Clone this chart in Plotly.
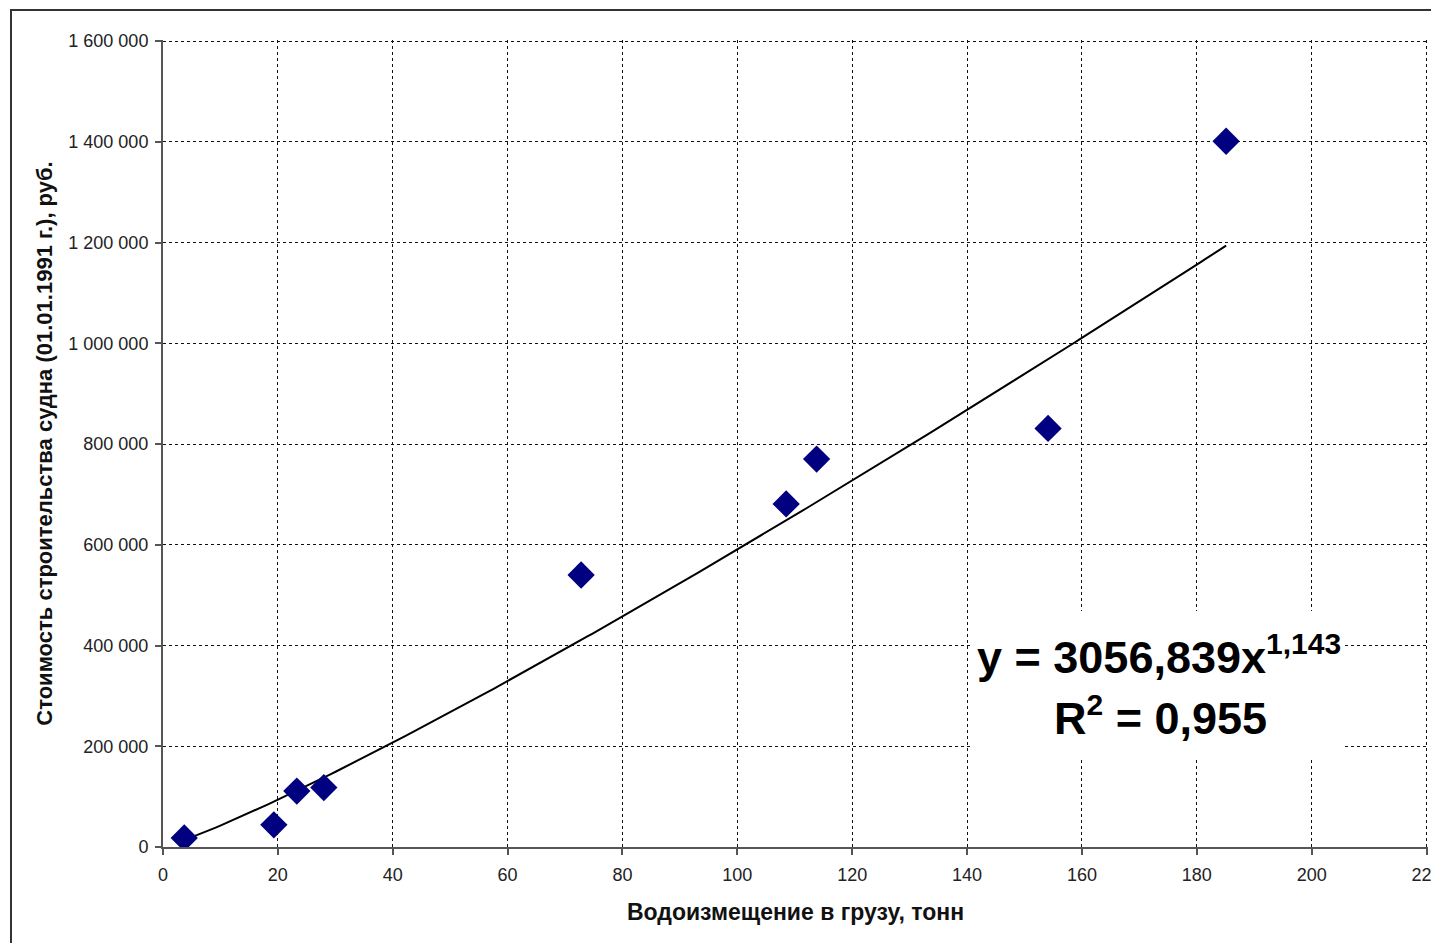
import numpy as np
import plotly.graph_objects as go

# Data
displacement_t = [3.7, 19.3, 23.3, 28.0, 72.8, 108.5, 113.8, 154.1, 185.1]
cost_rub = [18000, 44000, 111000, 118000, 540000, 681000, 770000, 831000, 1401000]

# Power trend line shown on the chart: y = a * x^b
trend_a = 3056.839
trend_b = 1.143

x_ticks = list(range(0, 221, 20))
y_ticks = list(range(0, 1600001, 200000))

x_title = "Водоизмещение в грузу, тонн"
y_title = "Стоимость строительства судна (01.01.1991 г.), руб."

trend_x = np.linspace(min(displacement_t), max(displacement_t), 200)
trend_y = trend_a * trend_x ** trend_b

FONT = "Arial, 'Liberation Sans', sans-serif"

# page body margin offset (8px)
OFF = 8
PL, PR, PT, PB = 163, 1428, 40, 847  # plot area in window pixels
PW, PH = PR - PL, PB - PT


def px(xp):
    return (xp - PL) / PW


def py(yp):
    return (PB - yp) / PH


fig = go.Figure()
fig.add_trace(go.Scatter(
    x=trend_x, y=trend_y, mode="lines",
    line=dict(color="#000000", width=2), hoverinfo="skip", showlegend=False,
))
fig.add_trace(go.Scatter(
    x=displacement_t, y=cost_rub, mode="markers",
    marker=dict(symbol="diamond", size=21, color="#000080", line=dict(width=0)),
    showlegend=False,
))

grid_common = dict(
    showgrid=True, gridcolor="#111111", gridwidth=1, griddash="3px,3px",
    zeroline=False, showline=True, linecolor="#555555", linewidth=2,
    ticks="outside", ticklen=6, tickwidth=2, tickcolor="#555555",
    tickfont=dict(family=FONT, size=18, color="#222222"),
    ticklabeloverflow="allow",
)

fig.update_xaxes(
    range=[0, 220.25], tickvals=x_ticks, ticklabelstandoff=4,
    title=dict(text=x_title, font=dict(family=FONT, size=23, color="#111111", weight="bold"), standoff=20),
    **grid_common,
)
fig.update_yaxes(
    range=[0, 1602000], tickvals=y_ticks, tickformat=",.0f", ticklabelstandoff=3,
    title=dict(text=y_title, font=dict(family=FONT, size=22, color="#111111", weight="bold"), standoff=10),
    **grid_common,
)

# white box behind the equation
fig.add_shape(type="rect", xref="paper", yref="paper",
              x0=px(972), x1=px(1344), y0=py(759), y1=py(611),
              fillcolor="white", line=dict(width=0), layer="above")

# outer chart frame
fig.add_shape(type="rect", xref="paper", yref="paper",
              x0=px(11), x1=2.0, y0=-1.0, y1=py(10),
              fillcolor="rgba(0,0,0,0)", line=dict(color="#333333", width=2), layer="above")

fig.add_annotation(
    xref="paper", yref="paper", x=px(1159), y=py(655),
    text="y = 3056,839x<sup><span style='font-size:30px'>1,143</span></sup>", showarrow=False,
    font=dict(family=FONT, size=45, color="#000000", weight="bold"),
    xanchor="center", yanchor="middle",
)
fig.add_annotation(
    xref="paper", yref="paper", x=px(1160), y=py(716),
    text="R<sup><span style='font-size:30px'>2</span></sup> = 0,955", showarrow=False,
    font=dict(family=FONT, size=45, color="#000000", weight="bold"),
    xanchor="center", yanchor="middle",
)

fig.update_layout(
    width=1439 - OFF, height=943 - OFF,
    margin=dict(l=PL - OFF, r=1439 - PR, t=PT - OFF, b=943 - PB, autoexpand=False),
    paper_bgcolor="white", plot_bgcolor="white",
    separators=", ",
    font=dict(family=FONT),
    showlegend=False,
)

fig.write_html("out.html", config={"displayModeBar": False})
